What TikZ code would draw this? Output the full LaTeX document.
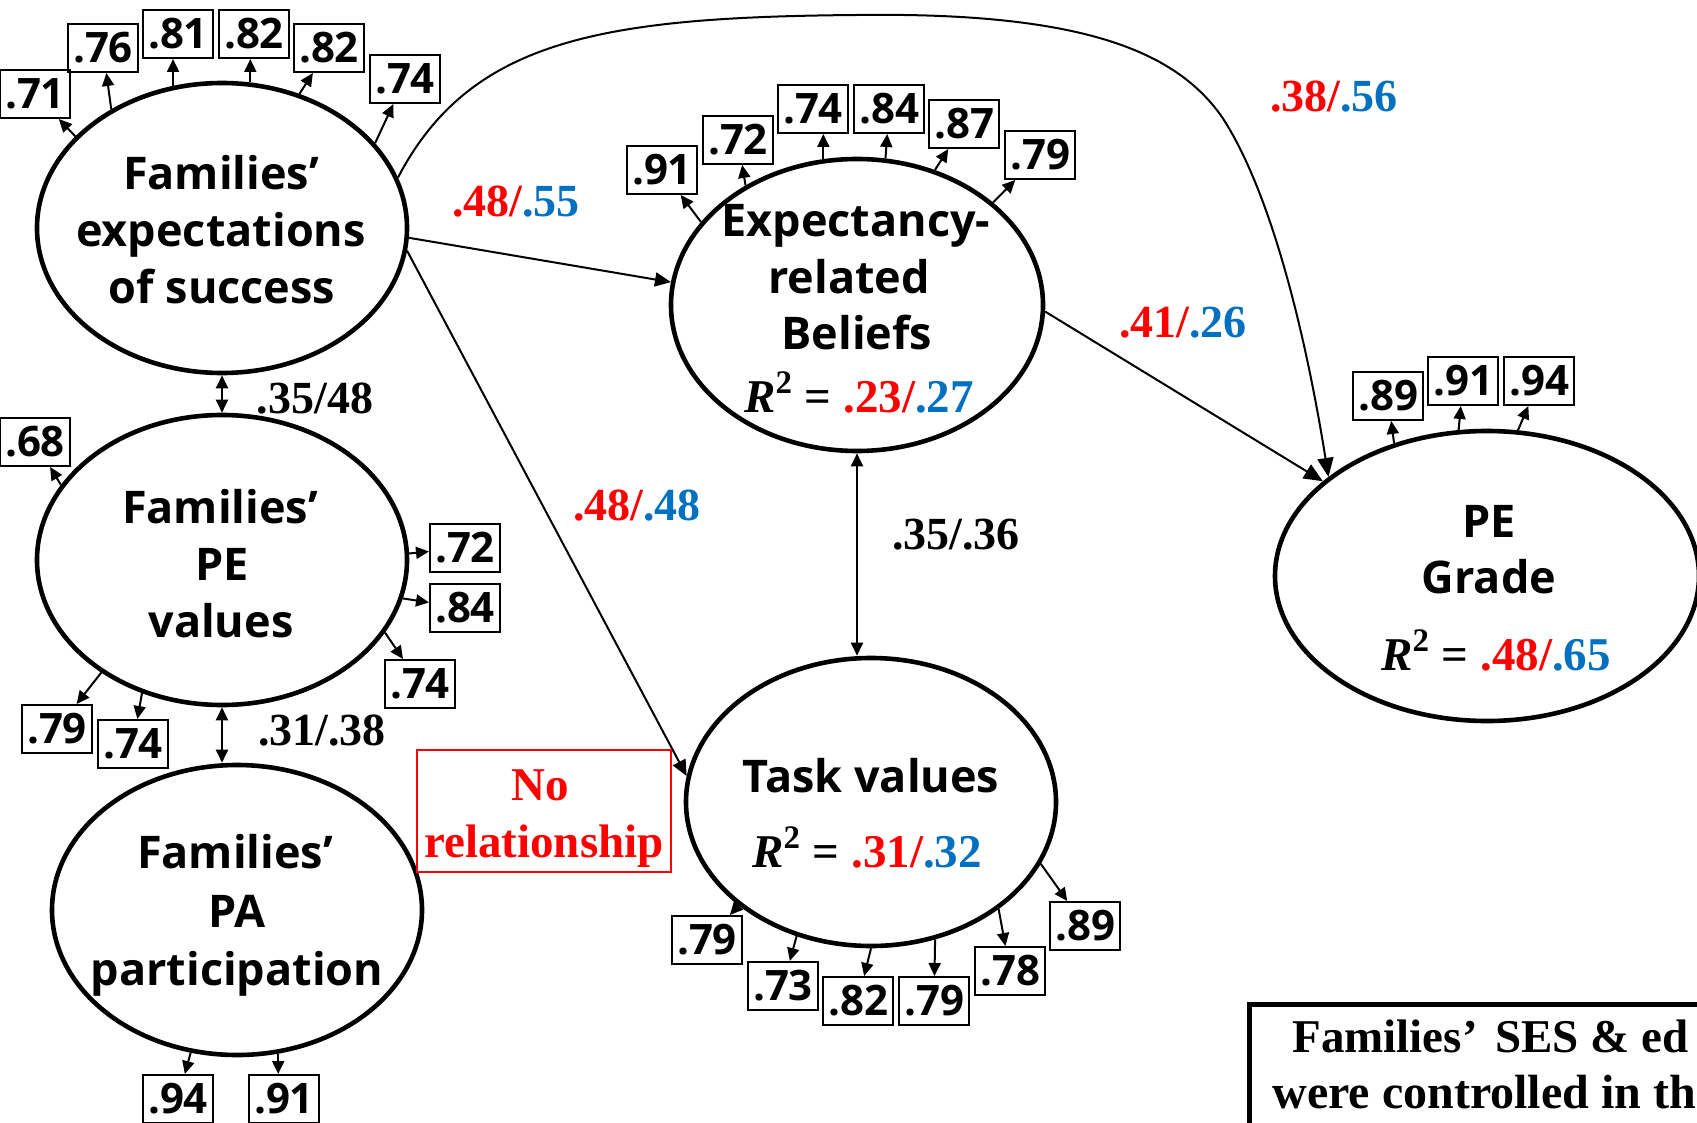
\documentclass[tikz,border=0pt]{standalone}
\usepackage{fontspec}
\setmainfont{Liberation Serif}
\newfontfamily\osans{Open Sans}
\usetikzlibrary{shapes.geometric,arrows.meta}
\definecolor{rd}{RGB}{255,0,0}
\definecolor{bl}{RGB}{0,112,192}
\begin{document}
\begin{tikzpicture}[x=0.5pt,y=-0.5pt,
  lat/.style={ellipse, draw, line width=2.3pt, inner sep=0pt},
  lbl/.style={font=\osans\bfseries\fontsize{22.5}{27}\selectfont, anchor=base, inner sep=0pt},
  rsq/.style={font=\bfseries\fontsize{23.5}{28}\selectfont, anchor=base, inner sep=0pt},
  coef/.style={font=\bfseries\fontsize{23}{27}\selectfont, anchor=base, inner sep=0pt},
  ind/.style={draw, line width=1pt, font=\osans\bfseries\fontsize{21}{25}\selectfont, minimum width=35pt, minimum height=24pt, inner sep=0pt},
  ld/.style={-{Triangle[length=6.5pt,width=6pt]}, line width=1pt},
  pth/.style={-{Triangle[length=8pt,width=7pt]}, line width=1pt},
  bigpth/.style={-{Triangle[length=9.5pt,width=8pt]}, line width=1pt},
  dbl/.style={{Triangle[length=6.5pt,width=6pt]}-{Triangle[length=6.5pt,width=6pt]}, line width=1pt}
]
\useasboundingbox (0,0) rectangle (1697,1123);
\clip (0,0) rectangle (1697,1123);

% latent variables
\node[lat, minimum width=185pt, minimum height=145pt] (e1) at (222,228) {};
\node[lat, minimum width=185pt, minimum height=145pt] (e2) at (222,560) {};
\node[lat, minimum width=185pt, minimum height=145pt] (e3) at (237,910) {};
\node[lat, minimum width=186pt, minimum height=146pt] (e4) at (857,305) {};
\node[lat, minimum width=185pt, minimum height=144pt] (e5) at (871,802) {};
\node[lat, minimum width=212pt, minimum height=145pt] (e6) at (1487,576) {};

% texts in latent variables
\node[lbl] (t1a) at (221,190) {Families’};
\node[lbl] (t1b) at (221,247) {expectations};
\node[lbl] (t1c) at (222,303) {of success};
\node[lbl] (t2a) at (220,523) {Families’};
\node[lbl] (t2b) at (222,580) {PE};
\node[lbl] (t2c) at (221,637) {values};
\node[lbl] (t3a) at (235,868) {Families’};
\node[lbl] (t3b) at (237,927) {PA};
\node[lbl] (t3c) at (237,985) {participation};
\node[lbl] (t4a) at (856,237) {Expectancy-};
\node[lbl] (t4b) at (849,293) {related};
\node[lbl] (t4c) at (857,350) {Beliefs};
\node[rsq] (r4) at (859,412) {\textit{R}\textsuperscript{2} = \textcolor{rd}{.23/}\textcolor{bl}{.27}};
\node[lbl] (t5a) at (871,792) {Task values};
\node[rsq] (r5) at (867,867) {\textit{R}\textsuperscript{2} = \textcolor{rd}{.31/}\textcolor{bl}{.32}};
\node[lbl] (t6a) at (1489,537) {PE};
\node[lbl] (t6b) at (1489,593) {Grade};
\node[rsq] (r6) at (1496,670) {\textit{R}\textsuperscript{2} = \textcolor{rd}{.48/}\textcolor{bl}{.65}};

% indicators of e1
\node[ind] (b11) at (35,94) {.71};
\node[ind] (b12) at (103,48) {.76};
\node[ind] (b13) at (178,34) {.81};
\node[ind] (b14) at (254,34) {.82};
\node[ind] (b15) at (329,48) {.82};
\node[ind] (b16) at (405,79) {.74};
\draw[ld] (e1.148) -- (b11);
\draw[ld] (e1.133) -- (b12);
\draw[ld] (e1.109) -- (b13.south -| e1.109);
\draw[ld] (e1.79) -- (b14.south -| e1.79);
\draw[ld] (e1.60) -- (b15);
\draw[ld] (e1.29) -- (b16);

% indicators of e2
\node[ind] (b21) at (35,442) {.68};
\node[ind] (b22) at (465,548) {.72};
\node[ind] (b23) at (465,608) {.84};
\node[ind] (b24) at (420,684) {.74};
\node[ind] (b25) at (57,729) {.79};
\node[ind] (b26) at (133,744) {.74};
\draw[ld] (e2.155) -- (b21);
\draw[ld] (e2.2) -- (b22);
\draw[ld] (e2.-12) -- (b23);
\draw[ld] (e2.-24) -- (b24);
\draw[ld] (e2.223) -- (b25);
\draw[ld] (e2.239) -- (b26);

% indicators of e3
\node[ind] (b31) at (178,1099) {.94};
\node[ind] (b32) at (284,1099) {.91};
\draw[ld] (e3.252) -- (b31);
\draw[ld] (e3.286) -- (b32.north -| e3.286);

% indicators of e4
\node[ind] (b41) at (662,170) {.91};
\node[ind] (b42) at (738,140) {.72};
\node[ind] (b43) at (813,109) {.74};
\node[ind] (b44) at (889,109) {.84};
\node[ind] (b45) at (964,124) {.87};
\node[ind] (b46) at (1040,155) {.79};
\draw[ld] (e4.152) -- (b41);
\draw[ld] (e4.133) -- (b42);
\draw[ld] (e4.103) -- (b43.south -| e4.103);
\draw[ld] (e4.79) -- (b44);
\draw[ld] (e4.60) -- (b45);
\draw[ld] (e4.37) -- (b46);

% indicators of e5
\node[ind] (b51) at (707,940) {.79};
\node[ind] (b52) at (783,986) {.73};
\node[ind] (b53) at (858,1001) {.82};
\node[ind] (b54) at (934,1001) {.79};
\node[ind] (b55) at (1010,971) {.78};
\node[ind] (b56) at (1085,926) {.89};
\draw[ld] (e5.218) -- (b51);
\draw[ld] (e5.241) -- (b52);
\draw[ld] (e5.270) -- (b53);
\draw[ld] (e5.295) -- (b54);
\draw[ld] (e5.320) -- (b55);
\draw[ld] (e5.340) -- (b56);

% indicators of e6
\node[ind] (b61) at (1388,396) {.89};
\node[ind] (b62) at (1463,381) {.91};
\node[ind] (b63) at (1539,381) {.94};
\draw[ld] (e6.125) -- (b61);
\draw[ld] (e6.101) -- (b62);
\draw[ld] (e6.78) -- (b63);

% structural paths
\draw[pth] (e1.-3) -- (e4.173);
\draw[pth] (e1.-7) -- (e5.172);
\draw[bigpth] (e4.-2) -- (e6.150);
\draw[bigpth] (e1.16) .. controls (470,40) and (600,17) .. (857,15)
  .. controls (1080,12) and (1175,50) .. (1222,117)
  .. controls (1270,190) and (1305,330) .. (e6.148);
\draw[dbl] (e1.south) -- (e2.north);
\draw[dbl] (e2.south) -- (e2.south |- e3.north);
\draw[dbl] (e4.south) -- (e4.south |- e5.north);

% coefficients
\node[coef] (c1) at (516,217) {\textcolor{rd}{.48/}\textcolor{bl}{.55}};
\node[coef] (c2) at (1334,112) {\textcolor{rd}{.38/}\textcolor{bl}{.56}};
\node[coef] (c3) at (1183,337) {\textcolor{rd}{.41/}\textcolor{bl}{.26}};
\node[coef] (c4) at (315,413) {.35/48};
\node[coef] (c5) at (322,745) {.31/.38};
\node[coef] (c6) at (637,520) {\textcolor{rd}{.48/}\textcolor{bl}{.48}};
\node[coef] (c7) at (956,549) {.35/.36};

% no relationship box
\node[draw=rd, line width=1pt, minimum width=127pt, minimum height=61pt, inner sep=0pt] (nr) at (544,811) {};
\node[coef, font=\bfseries\fontsize{23.5}{28}\selectfont, text=rd] (nr1) at (540,800) {No};
\node[coef, font=\bfseries\fontsize{23.5}{28}\selectfont, text=rd] (nr2) at (544,857) {relationship};

% note box (cut by the picture edge)
\node[draw, line width=2.5pt, minimum width=330pt, minimum height=100pt, inner sep=0pt, anchor=north west] (note) at (1247,1002) {};
\node[coef, anchor=base west, font=\bfseries\fontsize{23.5}{28}\selectfont] (n1) at (1292,1052) {Families’\hspace{0.12em} SES \& ed};
\node[coef, anchor=base west, font=\bfseries\fontsize{24}{28}\selectfont] (n2) at (1272,1108) {were controlled in th};
\end{tikzpicture}
\end{document}
